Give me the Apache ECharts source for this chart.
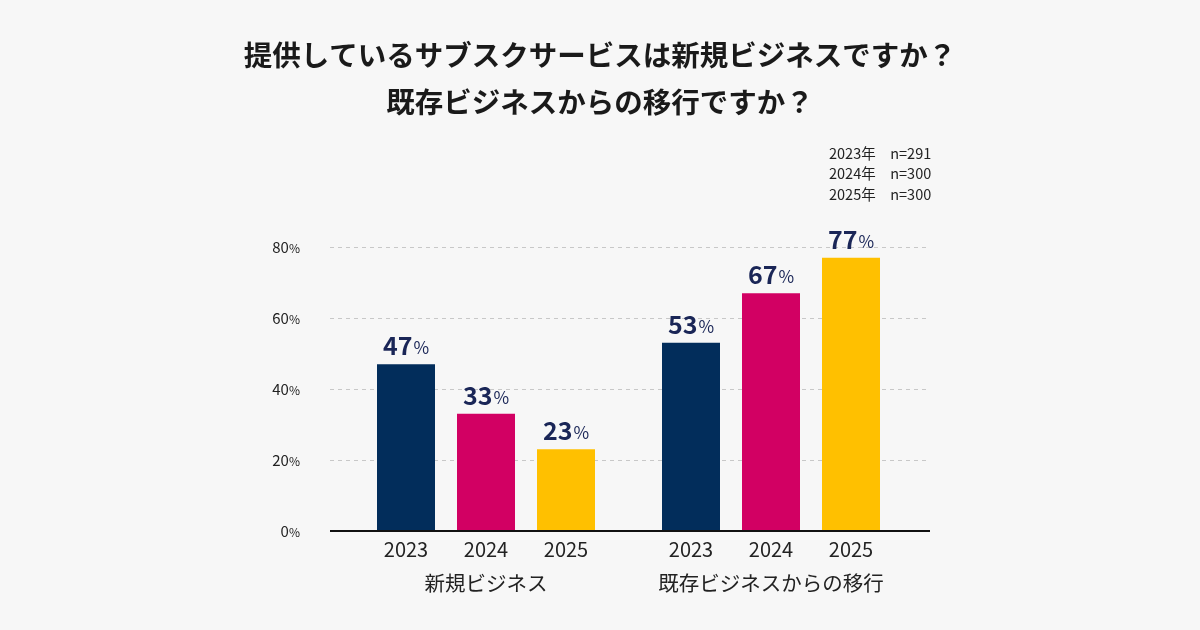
<!DOCTYPE html>
<html><head><meta charset="utf-8">
<script src="https://cdn.jsdelivr.net/npm/echarts@6/dist/echarts.min.js"></script>
<style>html,body{margin:0;padding:0;background:#f7f7f7}#c{width:1200px;height:630px}</style>
</head><body><div id="c"></div>
<script>
const years = ['2023', '2024', '2025'];
const groups = ['新規ビジネス', '既存ビジネスからの移行'];
const newBiz = [47, 33, 23];
const migrated = [53, 67, 77];
const yTicks = [0, 20, 40, 60, 80];
const sampleNotes = ['2023年　n=291', '2024年　n=300', '2025年　n=300'];
const titleLines = ['提供しているサブスクサービスは新規ビジネスですか？', '既存ビジネスからの移行ですか？'];
const barColors = ['#022d5b', '#d20063', '#ffc000'];

const FONT = '"Noto Sans CJK JP", "Noto Sans", sans-serif';
const TOP = 247, BOTTOM = 630 - 531;
const yMax = yTicks[yTicks.length - 1];

function hiddenY(i) {
  return { type: 'value', gridIndex: i, min: 0, max: yMax, interval: 20, show: false };
}
function groupX(i, name) {
  return {
    type: 'category', gridIndex: i, data: years,
    axisLine: { show: false }, axisTick: { show: false },
    axisLabel: { fontFamily: FONT, fontSize: 20, color: '#222', margin: 8 },
    name: name, nameLocation: 'middle', nameGap: 42,
    nameTextStyle: { fontFamily: FONT, fontSize: 20.5, color: '#222' }
  };
}
function barSeries(i, vals) {
  return {
    type: 'bar', xAxisIndex: i, yAxisIndex: i, barWidth: 58,
    data: vals.map((v, k) => ({ value: v, itemStyle: { color: barColors[k] } })),
    label: {
      show: true, position: 'top', distance: 6,
      formatter: p => '{n|' + p.value + '}{p|%}',
      rich: {
        n: { fontFamily: FONT, fontSize: 25, fontWeight: 'bold', color: '#1a2657' },
        p: { fontFamily: FONT, fontSize: 17, color: '#1a2657', padding: [4, 0, 0, 1] }
      }
    }
  };
}

const chart = echarts.init(document.getElementById('c'));
chart.setOption({
  backgroundColor: '#f7f7f7',
  animation: false,
  title: {
    text: titleLines.join('\n'), left: 'center', top: 27,
    textStyle: { fontFamily: FONT, fontSize: 28.5, fontWeight: 'bold', color: '#1a1a1a', lineHeight: 47 }
  },
  graphic: sampleNotes.map((t, i) => ({
    type: 'text', left: 829, top: 146 + i * 20.5,
    style: { text: t, fontFamily: FONT, fontSize: 14.5, fill: '#222' }
  })),
  grid: [
    { left: 330, right: 270, top: TOP, bottom: BOTTOM },
    { left: 366, width: 240, top: TOP, bottom: BOTTOM },
    { left: 651, width: 240, top: TOP, bottom: BOTTOM }
  ],
  xAxis: [
    { type: 'value', gridIndex: 0, min: 0, max: 1, show: true,
      axisLine: { show: false }, axisTick: { show: false }, axisLabel: { show: false }, splitLine: { show: false } },
    groupX(1, groups[0]),
    groupX(2, groups[1])
  ],
  yAxis: [
    { type: 'value', gridIndex: 0, min: 0, max: yMax, interval: 20,
      axisLine: { show: false }, axisTick: { show: false },
      axisLabel: {
        margin: 30, formatter: v => '{n|' + v + '}{p|%}',
        rich: {
          n: { fontFamily: FONT, fontSize: 15, color: '#222' },
          p: { fontFamily: FONT, fontSize: 12, color: '#222', padding: [2, 0, 0, 0] }
        }
      },
      splitLine: { show: true, lineStyle: { color: '#c8c8c8', type: [4, 4], width: 1 } }
    },
    hiddenY(1), hiddenY(2)
  ],
  series: [
    barSeries(1, newBiz),
    barSeries(2, migrated),
    { type: 'line', xAxisIndex: 0, yAxisIndex: 0, data: [[0, 0], [1, 0]], symbol: 'none',
      lineStyle: { color: '#111', width: 2 }, z: 10, silent: true }
  ]
});
</script></body></html>
